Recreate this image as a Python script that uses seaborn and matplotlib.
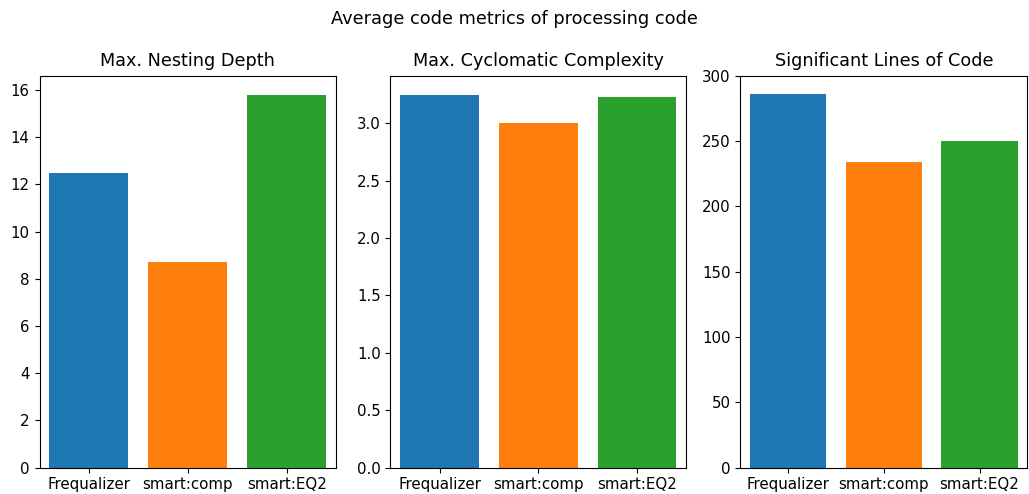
import matplotlib
matplotlib.use("Agg")
import matplotlib.pyplot as plt
import seaborn as sns
import pandas as pd

tools = ["Frequalizer", "smart:comp", "smart:EQ2"]
nesting_depth = [12.5, 8.7, 15.8]
cyclomatic = [3.25, 3.0, 3.225]
sloc = [286.0, 234.4, 250.5]

titles = ["Max. Nesting Depth", "Max. Cyclomatic Complexity", "Significant Lines of Code"]
metrics = [nesting_depth, cyclomatic, sloc]
colors = ["#1f77b4", "#ff7f0e", "#2ca02c"]

fig = plt.figure(figsize=(10.29, 4.94), dpi=100)
boxes = [
    [0.0384, 0.0536, 0.2882, 0.7926],
    [0.3793, 0.0536, 0.2877, 0.7926],
    [0.7194, 0.0536, 0.2791, 0.7926],
]
axes = [fig.add_axes(b) for b in boxes]

for ax, title, values in zip(axes, titles, metrics):
    df = pd.DataFrame({"tool": tools, "value": values})
    sns.barplot(data=df, x="tool", y="value", hue="tool", palette=colors,
                saturation=1, width=0.8, legend=False, ax=ax)
    ax.set_title(title, fontsize=12.7, pad=7)
    ax.set_xlabel("")
    ax.set_ylabel("")
    ax.tick_params(labelsize=10.8)

axes[1].set_yticks([0.0, 0.5, 1.0, 1.5, 2.0, 2.5, 3.0])
axes[2].set_ylim(0, 300)

fig.suptitle("Average code metrics of processing code", fontsize=12.8, y=0.98)
fig.savefig("out.png", dpi=100)
